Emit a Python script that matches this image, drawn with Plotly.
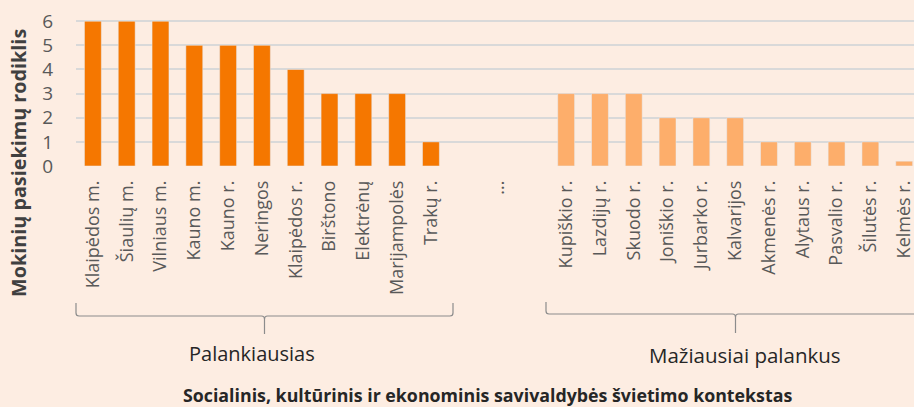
import plotly.graph_objects as go

# ---- data ----
top_names = ["Klaipėdos m.", "Šiaulių m.", "Vilniaus m.", "Kauno m.", "Kauno r.", "Neringos",
             "Klaipėdos r.", "Birštono", "Elektrėnų", "Marijampolės", "Trakų r."]
top_values = [6, 6, 6, 5, 5, 5, 4, 3, 3, 3, 1]
gap_names = [" ", "...", "  "]
bottom_names = ["Kupiškio r.", "Lazdijų r.", "Skuodo r.", "Joniškio r.", "Jurbarko r.", "Kalvarijos",
                "Akmenės r.", "Alytaus r.", "Pasvalio r.", "Šilutės r.", "Kelmės r."]
bottom_values = [3, 3, 3, 2, 2, 2, 1, 1, 1, 1, 0.2]
y_ticks = [0, 1, 2, 3, 4, 5, 6]
y_title = "Mokinių pasiekimų rodiklis"
x_title = "Socialinis, kultūrinis ir ekonominis savivaldybės švietimo kontekstas"
group_labels = ["Palankiausias", "Mažiausiai palankus"]

categories = top_names + gap_names + bottom_names

W, H = 914, 407
ML, MR, MT, MB = 76, 0, 20, 241
BG = "#FDEDE2"

fig = go.Figure()
fig.add_trace(go.Bar(x=top_names, y=top_values, marker_color="#F57700", width=0.5,
                     showlegend=False))
fig.add_trace(go.Bar(x=bottom_names, y=bottom_values, marker_color="#FDAE6B", width=0.5,
                     showlegend=False))

# helpers: pixel -> paper
pw = W - ML - MR
ph = H - MT - MB
def px(x):
    return (x - ML) / pw
def py(y):
    return (H - MB - y) / ph

def bracket(x0, x1, xm, ytop, yh, ytip, r=3):
    return (f"M {px(x0)},{py(ytop)} L {px(x0)},{py(yh - r)} "
            f"Q {px(x0)},{py(yh)} {px(x0 + r)},{py(yh)} "
            f"L {px(xm - r)},{py(yh)} Q {px(xm)},{py(yh)} {px(xm)},{py(yh + r)} "
            f"L {px(xm)},{py(ytip)} L {px(xm)},{py(yh + r)} "
            f"Q {px(xm)},{py(yh)} {px(xm + r)},{py(yh)} "
            f"L {px(x1 - r)},{py(yh)} Q {px(x1)},{py(yh)} {px(x1)},{py(yh - r)} "
            f"L {px(x1)},{py(ytop)}")

shapes = [
    dict(type="path", xref="paper", yref="paper", path=bracket(76, 453, 264.5, 303, 316, 334),
         line=dict(color="#8C8C8C", width=1.2)),
    dict(type="path", xref="paper", yref="paper", path=bracket(546, 1000, 735.5, 302, 314, 333),
         line=dict(color="#8C8C8C", width=1.2)),
]

annotations = [
    dict(text=group_labels[0], x=px(251.5), y=py(353), xref="paper", yref="paper",
         showarrow=False, font=dict(family="Open Sans", size=20, color="#262626"),
         xanchor="center", yanchor="middle"),
    dict(text=group_labels[1], x=px(744.5), y=py(355), xref="paper", yref="paper",
         showarrow=False, font=dict(family="Open Sans", size=20.5, color="#262626"),
         xanchor="center", yanchor="middle"),
    dict(text=f"<b>{x_title}</b>", x=px(487), y=py(395.5), xref="paper", yref="paper",
         showarrow=False, font=dict(family="Open Sans", size=17.8, color="#262626"),
         xanchor="center", yanchor="middle"),
    dict(text=f"<b>{y_title}</b>", x=px(18), y=py(163), xref="paper", yref="paper",
         showarrow=False, textangle=-90,
         font=dict(family="Open Sans", size=19.8, color="#404040"),
         xanchor="center", yanchor="middle"),
]

fig.update_layout(
    width=W, height=H,
    margin=dict(l=ML, r=MR, t=MT, b=MB, pad=0),
    paper_bgcolor=BG, plot_bgcolor=BG,
    bargap=0.5,
    shapes=shapes,
    annotations=annotations,
    xaxis=dict(type="category", categoryorder="array", categoryarray=categories,
               tickmode="array", tickvals=categories, ticktext=categories,
               range=[-0.5, 24.29], tickangle=-90, showgrid=False, zeroline=False,
               showline=False, ticks="", ticklabelstandoff=10,
               tickfont=dict(family="Open Sans", size=18, color="#595959")),
    yaxis=dict(range=[0, 6.05], tickvals=y_ticks, showgrid=True, gridcolor="#D9D9D9",
               gridwidth=1.8, zeroline=False, showline=False, ticks="",
               ticklabelstandoff=22,
               tickfont=dict(family="Open Sans", size=19, color="#595959")),
)

fig.write_html("out.html", config={"displayModeBar": False},
               post_script="document.body.style.margin='0';document.body.style.overflow='hidden';")
